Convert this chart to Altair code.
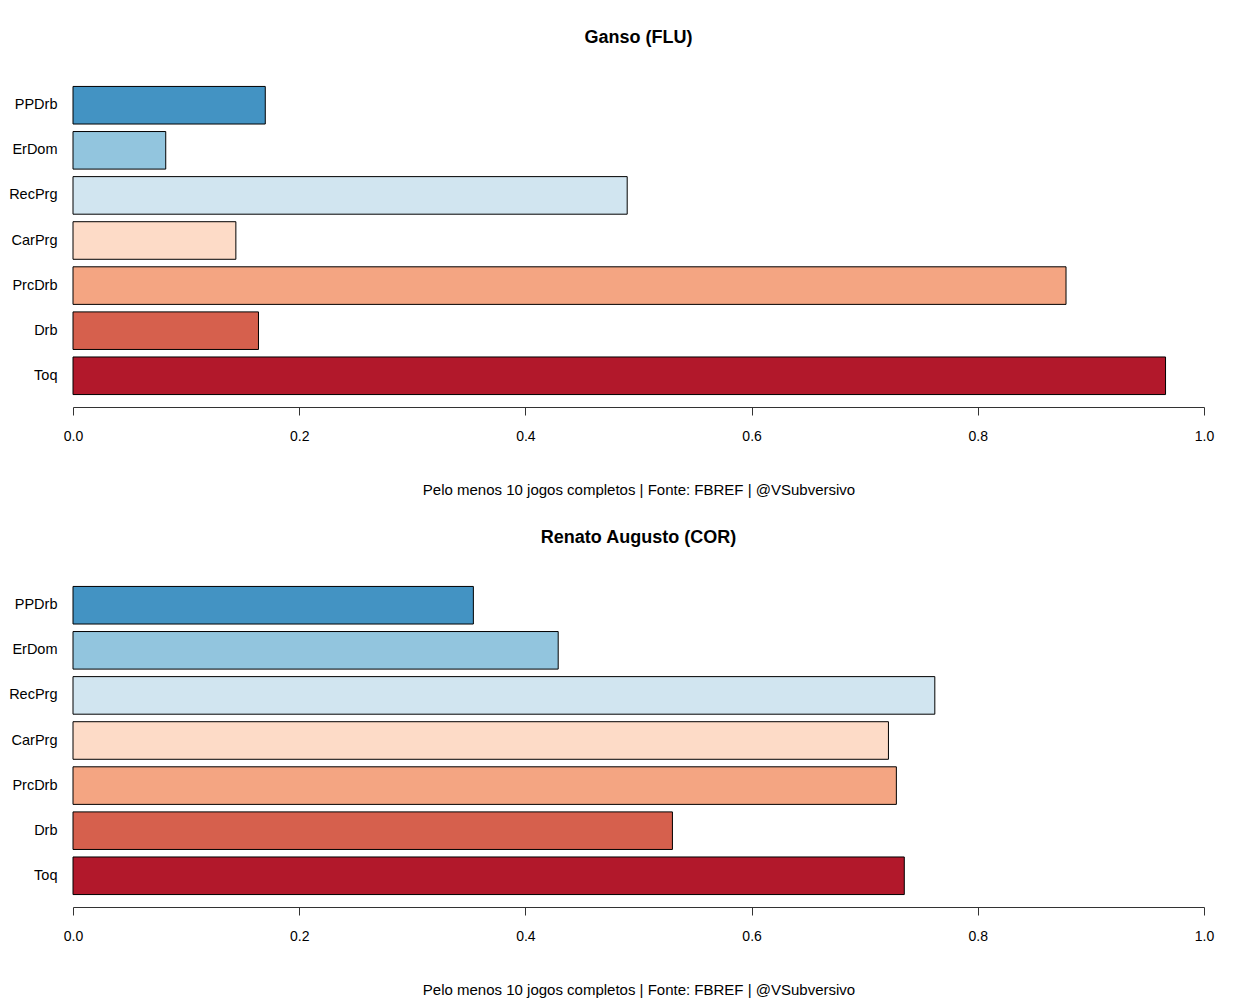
import altair as alt
import pandas as pd

categories = ["PPDrb", "ErDom", "RecPrg", "CarPrg", "PrcDrb", "Drb", "Toq"]
colors = ["#4393C3", "#92C5DE", "#D1E5F0", "#FDDBC7", "#F4A582", "#D6604D", "#B2182B"]

ganso_values = [0.170, 0.082, 0.490, 0.144, 0.878, 0.164, 0.966]
renato_values = [0.354, 0.429, 0.762, 0.721, 0.728, 0.530, 0.735]

titles = ["Ganso (FLU)", "Renato Augusto (COR)"]
footer = "Pelo menos 10 jogos completos | Fonte: FBREF | @VSubversivo"
tick_values = [0.0, 0.2, 0.4, 0.6, 0.8, 1.0]

FONT = "Liberation Sans"


def panel(title, values):
    df = pd.DataFrame({"stat": categories, "value": values})
    return alt.Chart(df, title=alt.TitleParams(
        title, fontSize=18, fontWeight="bold", font=FONT, anchor="middle",
        frame="group", offset=27, color="black")).mark_bar(
        stroke="black", strokeWidth=1
    ).encode(
        x=alt.X("value:Q",
                scale=alt.Scale(domain=[0, 1], nice=False, zero=True),
                axis=alt.Axis(values=tick_values, format=".1f", grid=False,
                              tickSize=8, labelPadding=14, labelFontSize=14,
                              labelFlush=False,
                              labelFont=FONT, labelColor="black",
                              domainColor="#333333", tickColor="#333333",
                              title=footer, titleFontSize=15,
                              titleFontWeight="normal", titleFont=FONT,
                              titleColor="black", titlePadding=39)),
        y=alt.Y("stat:N", sort=categories,
                scale=alt.Scale(paddingInner=0.1667, paddingOuter=0.276),
                axis=alt.Axis(title=None, domain=False, ticks=False,
                              labelFontSize=14.5, labelFont=FONT,
                              labelColor="black", labelPadding=16,
                              minExtent=57, maxExtent=57)),
        color=alt.Color("stat:N", scale=alt.Scale(domain=categories, range=colors),
                        legend=None),
    ).properties(width=1131, height=333)


chart = alt.vconcat(
    panel(titles[0], ganso_values),
    panel(titles[1], renato_values),
    spacing=32,
).properties(
    padding={"left": 0, "top": 21, "right": 10, "bottom": 5},
    background="white",
).configure_view(stroke=None)

chart.save("out.html", embed_options={"renderer": "svg", "actions": False})
